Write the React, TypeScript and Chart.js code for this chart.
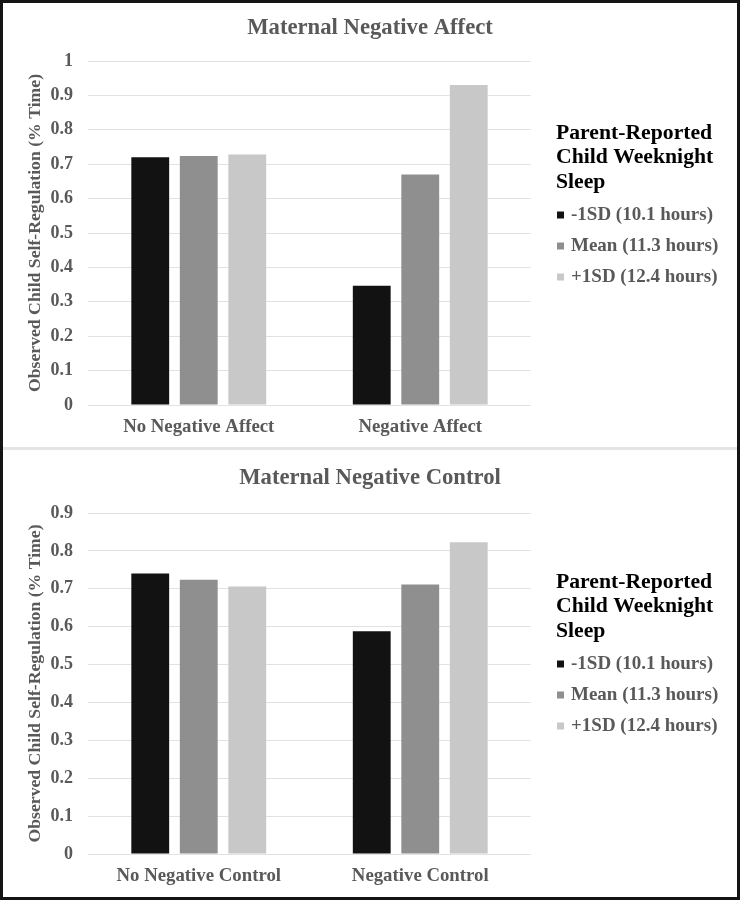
import React, { useEffect, useRef } from "react";
import { Chart, registerables } from "chart.js";

Chart.register(...registerables);

const SERIES_LABELS = ["-1SD (10.1 hours)", "Mean (11.3 hours)", "+1SD (12.4 hours)"];
const SERIES_COLORS = ["#121212", "#8f8f8f", "#c8c8c8"];
const LEGEND_TITLE = ["Parent-Reported", "Child Weeknight", "Sleep"];
const Y_TITLE = "Observed Child Self-Regulation (% Time)";

const AFFECT_TITLE = "Maternal Negative Affect";
const AFFECT_CATEGORIES = ["No Negative Affect", "Negative Affect"];
const AFFECT_LOW = [0.72, 0.347];
const AFFECT_MEAN = [0.724, 0.67];
const AFFECT_HIGH = [0.728, 0.93];
const AFFECT_Y_MAX = 1;

const CONTROL_TITLE = "Maternal Negative Control";
const CONTROL_CATEGORIES = ["No Negative Control", "Negative Control"];
const CONTROL_LOW = [0.74, 0.588];
const CONTROL_MEAN = [0.724, 0.711];
const CONTROL_HIGH = [0.706, 0.823];
const CONTROL_Y_MAX = 0.9;

const Y_STEP = 0.1;

const FONT = "'Liberation Serif', 'Times New Roman', serif";
const GRAY_TEXT = "#595959";
const GRID = "#e2e2e2";

const sideLegend = {
  id: "sideLegend",
  afterDraw(chart: any) {
    const ctx = chart.ctx;
    const opts = chart.options.plugins.sideLegend || {};
    const x0 = chart.chartArea.right + 25;
    const base = opts.top ?? 133;
    ctx.save();
    // chart title, centred on the whole canvas
    ctx.textBaseline = "middle";
    ctx.textAlign = "center";
    ctx.fillStyle = GRAY_TEXT;
    ctx.font = `bold 22.7px ${FONT}`;
    ctx.fillText(opts.title || "", chart.width / 2, opts.titleY ?? 28);
    // legend
    ctx.textAlign = "left";
    ctx.fillStyle = "#000000";
    ctx.font = `bold 21.7px ${FONT}`;
    LEGEND_TITLE.forEach((t, i) => ctx.fillText(t, x0, base + i * 24.5));
    ctx.font = `bold 19px ${FONT}`;
    chart.data.datasets.forEach((ds: any, i: number) => {
      const y = base + 82 + i * 31;
      ctx.fillStyle = ds.backgroundColor;
      ctx.fillRect(x0 + 1, y - 3.5, 7, 7);
      ctx.fillStyle = GRAY_TEXT;
      ctx.fillText(ds.label, x0 + 15, y);
    });
    ctx.restore();
  },
};

function makeConfig(
  title: string,
  categories: string[],
  low: number[],
  mean: number[],
  high: number[],
  yMax: number,
  plotTop: number,
  xAxisHeight: number,
  legendTop: number
): any {
  const series = [low, mean, high];
  return {
    type: "bar",
    data: {
      labels: categories,
      datasets: series.map((d, i) => ({
        label: SERIES_LABELS[i],
        data: d,
        backgroundColor: SERIES_COLORS[i],
        borderWidth: 0,
        barPercentage: 0.78,
        categoryPercentage: 0.657,
      })),
    },
    options: {
      responsive: false,
      animation: false,
      devicePixelRatio: 1,
      layout: { padding: { left: 0, right: 209, top: plotTop, bottom: 0 } },
      plugins: {
        legend: { display: false },
        tooltip: { enabled: false },
        title: { display: false },
        sideLegend: { top: legendTop, title, titleY: 28 },
      },
      scales: {
        x: {
          grid: { display: false, drawTicks: false },
          border: { display: false },
          ticks: {
            color: GRAY_TEXT,
            font: { family: FONT, size: 18.8, weight: "bold" },
            padding: 11,
          },
          afterFit(scale: any) {
            scale.height = xAxisHeight;
          },
        },
        y: {
          min: 0,
          max: yMax,
          grid: { color: GRID, lineWidth: 1, drawTicks: false },
          border: { display: false },
          ticks: {
            stepSize: Y_STEP,
            color: GRAY_TEXT,
            font: { family: FONT, size: 18, weight: "bold" },
            padding: 15,
            callback: (v: number) => String(Math.round(v * 10) / 10),
          },
          title: {
            display: true,
            text: Y_TITLE,
            color: GRAY_TEXT,
            font: { family: FONT, size: 17.7, weight: "bold", lineHeight: 1.2 },
            padding: { top: 24.5, bottom: 0 },
          },
          afterFit(scale: any) {
            scale.width = 88;
          },
        },
      },
    },
    plugins: [sideLegend],
  };
}

function Panel(props: { config: any; top: number; height: number }) {
  const ref = useRef<HTMLCanvasElement>(null);
  useEffect(() => {
    if (!ref.current) return;
    const chart = new Chart(ref.current, props.config);
    return () => chart.destroy();
  }, []);
  return (
    <canvas
      ref={ref}
      width={740}
      height={props.height}
      style={{ position: "absolute", left: 0, top: props.top, width: 740, height: props.height }}
    />
  );
}

export default function App() {
  const topConfig = makeConfig(
    AFFECT_TITLE,
    AFFECT_CATEGORIES,
    AFFECT_LOW,
    AFFECT_MEAN,
    AFFECT_HIGH,
    AFFECT_Y_MAX,
    61,
    43,
    133
  );
  const bottomConfig = makeConfig(
    CONTROL_TITLE,
    CONTROL_CATEGORIES,
    CONTROL_LOW,
    CONTROL_MEAN,
    CONTROL_HIGH,
    CONTROL_Y_MAX,
    63,
    46,
    132
  );
  return (
    <div style={{ position: "absolute", left: 0, top: 0, width: 740, height: 900, background: "#ffffff" }}>
      <Panel config={topConfig} top={0} height={448} />
      <Panel config={bottomConfig} top={450} height={450} />
      <div style={{ position: "absolute", left: 0, top: 447, width: 740, height: 3, background: "#e4e4e4" }} />
      <div
        style={{
          position: "absolute",
          left: 0,
          top: 0,
          width: 740,
          height: 900,
          boxSizing: "border-box",
          border: "3px solid #141414",
          pointerEvents: "none",
        }}
      />
    </div>
  );
}
